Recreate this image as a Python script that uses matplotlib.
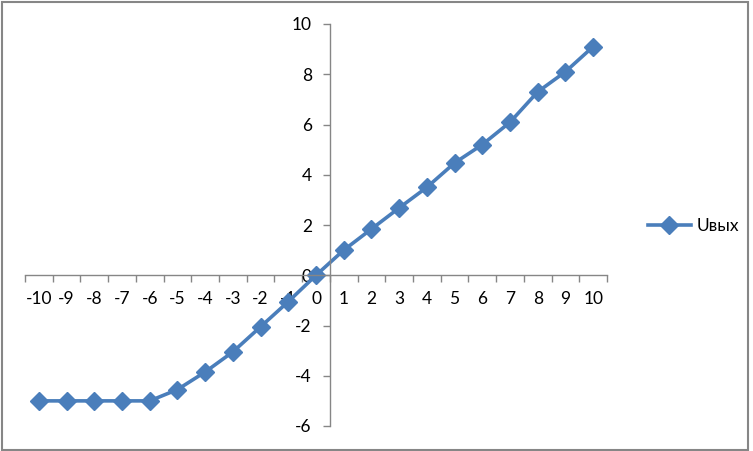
import matplotlib
matplotlib.use('Agg')
import matplotlib.pyplot as plt
from matplotlib.patches import Rectangle
from matplotlib.ticker import MultipleLocator, FixedLocator

# данные
u_in = [-10, -9, -8, -7, -6, -5, -4, -3, -2, -1, 0, 1, 2, 3, 4, 5, 6, 7, 8, 9, 10]
u_out = [-5, -5, -5, -5, -5, -4.55, -3.85, -3.05, -2.05, -1.05, 0,
         1.0, 1.84, 2.68, 3.5, 4.47, 5.2, 6.09, 7.3, 8.1, 9.1]

plt.rcParams['font.family'] = ['Lato', 'DejaVu Sans']
plt.rcParams['axes.unicode_minus'] = False
blue = '#4A7EBB'
grey = '#868686'

fig = plt.figure(figsize=(7.53, 4.51), dpi=100)
ax = fig.add_axes([25 / 753, 25 / 451, 582 / 753, 402 / 451])

ax.plot(u_in, u_out, color=blue, linewidth=2.6, marker='D', markersize=9,
        markeredgecolor=blue, markeredgewidth=1, label='Uвых', clip_on=False)

ax.set_xlim(-10.5, 10.5)
ax.set_ylim(-6, 10)

ax.spines['top'].set_visible(False)
ax.spines['right'].set_visible(False)
ax.spines['left'].set_position(('data', 0.5))
ax.spines['bottom'].set_position(('data', 0))
for s in ('left', 'bottom'):
    ax.spines[s].set_color(grey)
    ax.spines[s].set_linewidth(1)

# деления по границам категорий, подписи по центру
ax.xaxis.set_major_locator(FixedLocator([x - 0.5 for x in u_in] + [10.5]))
ax.xaxis.set_minor_locator(FixedLocator(u_in))
ax.xaxis.set_major_formatter(plt.NullFormatter())
ax.xaxis.set_minor_formatter(plt.FixedFormatter([str(x) for x in u_in]))
ax.tick_params(axis='x', which='major', length=5, width=1, color=grey, direction='out')
ax.tick_params(axis='x', which='minor', length=0, pad=11, labelsize=12.5)

ax.yaxis.set_major_locator(MultipleLocator(2))
ax.tick_params(axis='y', length=5, width=1, color=grey, direction='out', pad=8, labelsize=12.5)

fig.legend(loc='center left', bbox_to_anchor=(632 / 753, 1 - 226 / 451), frameon=False,
           fontsize=12.5, handlelength=2.5, handletextpad=0.3)

fig.patches.append(Rectangle((0.002, 0.003), 0.992, 0.993, transform=fig.transFigure,
                             fill=False, edgecolor=grey, linewidth=1.5))

plt.savefig('out.png', dpi=100)
